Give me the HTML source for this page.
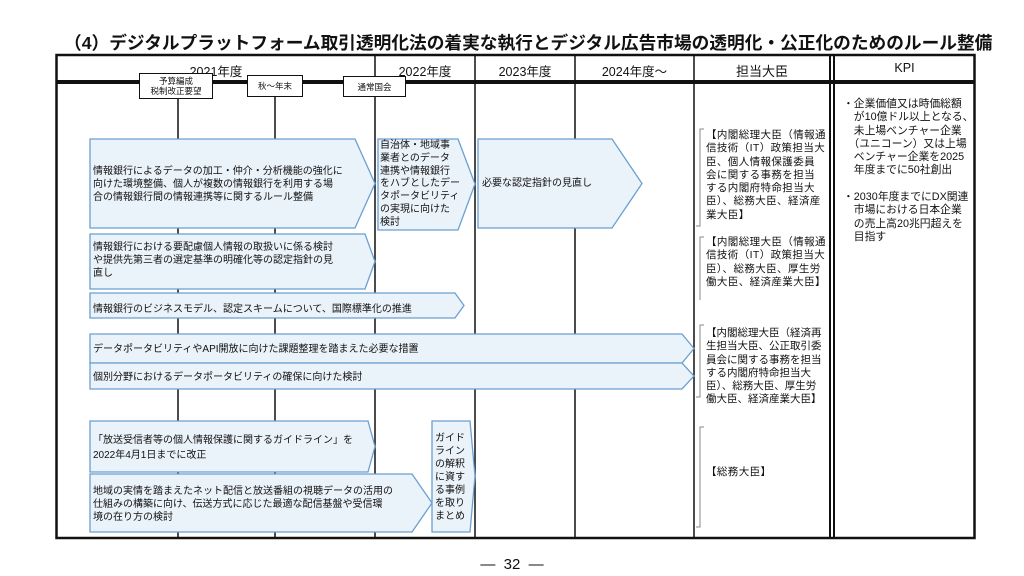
<!DOCTYPE html>
<html><head><meta charset="utf-8"><style>
body{margin:0;width:1024px;height:576px;background:#fff;position:relative;overflow:hidden;font-family:"Liberation Sans","Noto Sans CJK JP",sans-serif;color:#111}
.t{position:absolute;white-space:nowrap;font-size:10px;line-height:13px}
.h{position:absolute;font-size:12.5px;top:61px;text-align:center}
.k{position:absolute;font-size:10.5px;line-height:13.3px;white-space:nowrap;letter-spacing:0.4px}
.lb{position:absolute;background:#fff;border:1.5px solid #111;font-size:8.5px;line-height:10px;text-align:center;box-sizing:border-box;display:flex;align-items:center;justify-content:center}
</style></head><body>
<div style="position:absolute;left:64px;top:29px;font-size:17.7px;font-weight:bold;white-space:nowrap">（4）デジタルプラットフォーム取引透明化法の着実な執行とデジタル広告市場の透明化・公正化のためのルール整備</div>
<svg width="1024" height="576" style="position:absolute;left:0;top:0">
<g stroke="#111" fill="none">
<rect x="56.5" y="55" width="918" height="483" stroke-width="2.5"/>
<line x1="56" y1="82" x2="975" y2="82" stroke-width="4"/>
<line x1="375" y1="55" x2="375" y2="538" stroke-width="1.5"/>
<line x1="475" y1="55" x2="475" y2="538" stroke-width="1.5"/>
<line x1="575" y1="55" x2="575" y2="538" stroke-width="1.5"/>
<line x1="694" y1="55" x2="694" y2="538" stroke-width="1.5"/>
<line x1="830" y1="55" x2="830" y2="538" stroke-width="2"/>
<line x1="834" y1="55" x2="834" y2="538" stroke-width="2"/>
<line x1="178" y1="99" x2="178" y2="538" stroke-width="1.5"/>
<line x1="275" y1="97" x2="275" y2="538" stroke-width="1.5"/>
</g>
<g stroke="#8a8a8a" fill="none" stroke-width="1">
<path d="M704 129 H700 V226 H696"/>
<path d="M704 237 H700 V300"/>
<path d="M704 325 H700 V397 H696"/>
<path d="M704 427 H700 V527 H696"/>
</g>
<g fill="#ebf3fa" stroke="#6a9fd0" stroke-width="1.3">
<polygon points="90,139 355,139 375,183.5 355,228 90,228"/>
<polygon points="90,234 365,234 375,261.5 365,289 90,289"/>
<polygon points="90,293 455,293 464,305.5 455,318 90,318"/>
<polygon points="90,334 682,334 694,348.5 682,363 90,363"/>
<polygon points="90,363 682,363 694,376 682,389 90,389"/>
<polygon points="90,421 368,421 375,446.5 368,472 90,472"/>
<polygon points="90,474 412,474 432,503 412,532 90,532"/>
<polygon points="378,139 458,139 475,184 458,230 378,230"/>
<polygon points="478,139 612,139 642,183.5 612,228 478,228"/>
<polygon points="432,421 470,421 475,476 470,532 432,532"/>
</g>
</svg>
<div class="h" style="left:57px;width:318px">2021年度</div>
<div class="h" style="left:375px;width:100px">2022年度</div>
<div class="h" style="left:475px;width:100px">2023年度</div>
<div class="h" style="left:575px;width:119px">2024年度～</div>
<div class="h" style="left:694px;width:136px;font-size:13px">担当大臣</div>
<div class="h" style="left:834px;width:141px">KPI</div>
<div class="lb" style="left:139px;top:73px;width:74px;height:26px">予算編成<br>税制改正要望</div>
<div class="lb" style="left:247px;top:75px;width:56px;height:22px">秋～年末</div>
<div class="lb" style="left:343px;top:76px;width:63px;height:21px">通常国会</div>
<div class="t" style="left:93px;top:165px">情報銀行によるデータの加工・仲介・分析機能の強化に<br>向けた環境整備、個人が複数の情報銀行を利用する場<br>合の情報銀行間の情報連携等に関するルール整備</div>
<div class="t" style="left:93px;top:241px">情報銀行における要配慮個人情報の取扱いに係る検討<br>や提供先第三者の選定基準の明確化等の認定指針の見<br>直し</div>
<div class="t" style="left:93px;top:303px">情報銀行のビジネスモデル、認定スキームについて、国際標準化の推進</div>
<div class="t" style="left:93px;top:343px">データポータビリティやAPI開放に向けた課題整理を踏まえた必要な措置</div>
<div class="t" style="left:93px;top:371px">個別分野におけるデータポータビリティの確保に向けた検討</div>
<div class="t" style="left:93px;top:433px;line-height:15px">「放送受信者等の個人情報保護に関するガイドライン」を<br>2022年4月1日までに改正</div>
<div class="t" style="left:93px;top:485px">地域の実情を踏まえたネット配信と放送番組の視聴データの活用の<br>仕組みの構築に向け、伝送方式に応じた最適な配信基盤や受信環<br>境の在り方の検討</div>
<div class="t" style="left:380px;top:140px;line-height:12.8px">自治体・地域事<br>業者とのデータ<br>連携や情報銀行<br>をハブとしたデー<br>タポータビリティ<br>の実現に向けた<br>検討</div>
<div class="t" style="left:482px;top:177px">必要な認定指針の見直し</div>
<div class="t" style="left:435px;top:432px;line-height:13px">ガイド<br>ライン<br>の解釈<br>に資す<br>る事例<br>を取り<br>まとめ</div>
<div class="k" style="left:706px;top:129px">【内閣総理大臣（情報通<br>信技術（IT）政策担当大<br>臣、個人情報保護委員<br>会に関する事務を担当<br>する内閣府特命担当大<br>臣）、総務大臣、経済産<br>業大臣】</div>
<div class="k" style="left:706px;top:236px">【内閣総理大臣（情報通<br>信技術（IT）政策担当大<br>臣）、総務大臣、厚生労<br>働大臣、経済産業大臣】</div>
<div class="k" style="left:706px;top:327px;letter-spacing:0">【内閣総理大臣（経済再<br>生担当大臣、公正取引委<br>員会に関する事務を担当<br>する内閣府特命担当大<br>臣）、総務大臣、厚生労<br>働大臣、経済産業大臣】</div>
<div class="k" style="left:706px;top:466px">【総務大臣】</div>
<div class="k" style="left:843px;top:98px;font-size:10.8px;letter-spacing:0">・企業価値又は時価総額<br>　が10億ドル以上となる、<br>　未上場ベンチャー企業<br>　（ユニコーン）又は上場<br>　ベンチャー企業を2025<br>　年度までに50社創出</div>
<div class="k" style="left:843px;top:191px;font-size:10.8px;letter-spacing:0">・2030年度までにDX関連<br>　市場における日本企業<br>　の売上高20兆円超えを<br>　目指す</div>
<div style="position:absolute;left:0;width:1024px;top:556px;text-align:center;font-size:15px;white-space:pre">―  32  ―</div>
</body></html>
